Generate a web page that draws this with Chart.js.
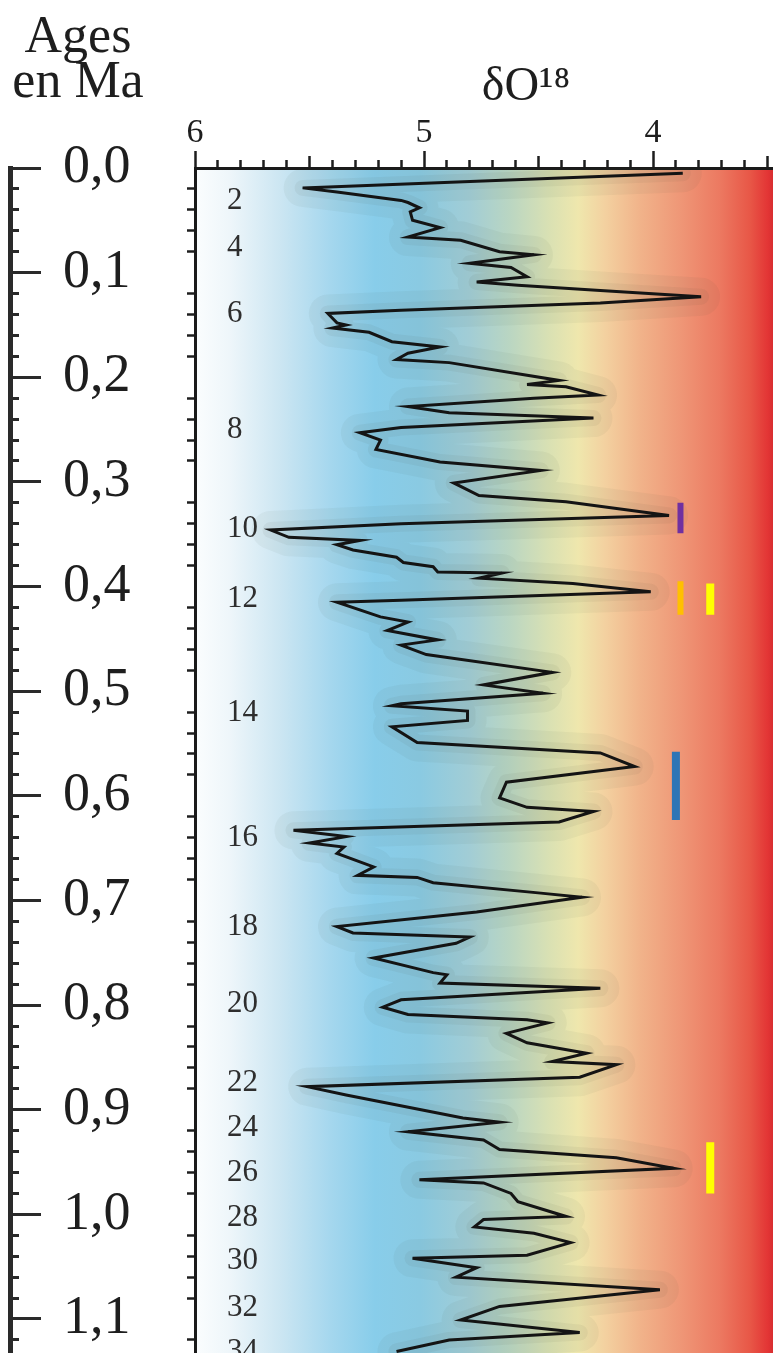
<!DOCTYPE html>
<html><head><meta charset="utf-8">
<script src="https://cdn.jsdelivr.net/npm/chart.js@4.4.1/dist/chart.umd.min.js"></script>
<style>
html,body{margin:0;padding:0;background:#fff;overflow:hidden}
#wrap{position:relative;width:773px;height:1353px}
canvas{position:absolute;left:0;top:0}
</style></head><body>
<div id="wrap">
<canvas id="plot" width="773" height="1353"></canvas>
<canvas id="ages" width="156" height="1353"></canvas>
</div>
<script>
// ---- data ----
const ageMa = [0.005,0.019,0.023,0.031,0.033,0.038,0.042,0.050,0.057,0.066,
0.069,0.080,0.083,0.091,0.095,0.104,0.109,0.112,0.117,0.123,
0.129,0.136,0.139,0.148,0.150,0.153,0.157,0.166,0.171,0.177,
0.183,0.186,0.203,0.207,0.209,0.217,0.220,0.228,0.234,0.239,
0.248,0.253,0.260,0.269,0.281,0.289,0.301,0.313,0.319,0.332,
0.340,0.346,0.353,0.356,0.360,0.365,0.372,0.377,0.381,0.386,
0.387,0.392,0.397,0.405,0.413,0.415,0.429,0.434,0.442,0.451,
0.456,0.465,0.482,0.494,0.502,0.512,0.514,0.519,0.528,0.534,
0.549,0.559,0.572,0.587,0.602,0.611,0.615,0.625,0.633,0.639,
0.645,0.649,0.655,0.668,0.676,0.678,0.683,0.693,0.697,0.711,
0.725,0.731,0.735,0.741,0.755,0.769,0.771,0.779,0.784,0.795,
0.802,0.809,0.814,0.817,0.827,0.836,0.846,0.854,0.857,0.869,
0.878,0.886,0.908,0.912,0.921,0.929,0.938,0.946,0.956,0.967,
0.970,0.980,0.988,1.002,1.005,1.012,1.018,1.027,1.039,1.042,
1.051,1.060,1.072,1.088,1.101,1.113,1.120,1.131];

const d18O = [3.87,5.53,5.38,5.10,5.07,5.02,5.06,5.05,4.93,5.07,
4.84,4.67,4.52,4.80,4.62,4.55,4.77,4.59,4.23,3.79,
4.23,5.10,5.42,5.38,5.34,5.40,5.24,5.14,4.93,5.07,
5.12,4.89,4.41,4.55,4.38,4.24,4.52,5.07,4.89,4.26,
5.10,5.28,5.19,5.21,4.93,4.49,4.87,4.76,4.38,3.93,
5.10,5.67,5.59,5.28,5.38,5.31,5.12,5.09,4.96,4.94,
4.66,4.76,4.35,4.01,5.10,5.38,5.19,5.07,5.16,4.94,
5.10,4.99,4.44,4.74,4.48,5.10,5.14,4.81,4.81,5.14,
5.03,4.23,4.08,4.64,4.67,4.55,4.26,4.41,5.57,5.34,
5.50,5.35,5.38,5.22,5.29,5.03,4.96,4.49,4.31,4.77,
5.38,5.31,4.80,4.86,5.22,4.96,4.90,4.93,4.23,5.10,
5.18,5.07,4.55,4.46,4.64,4.55,4.29,4.44,4.16,4.32,
5.51,5.34,4.83,4.67,5.07,4.74,4.67,4.16,3.91,5.02,
4.74,4.62,4.59,4.38,4.74,4.78,4.52,4.36,4.55,5.05,
4.77,4.86,3.97,4.67,4.84,4.32,4.89,5.12];

const misStageLabels = ['2','4','6','8','10','12','14','16','18','20','22','24','26','28','30','32','34'];
const misStageAges = [0.031,0.076,0.139,0.250,0.345,0.412,0.521,0.640,0.725,0.799,0.874,0.917,0.960,1.003,1.044,1.089,1.131];

const markerDelta = [3.88, 3.88, 3.75, 3.90, 3.75];
const markerAgeTop = [0.320, 0.395, 0.397, 0.558, 0.931];
const markerAgeBottom = [0.349, 0.427, 0.427, 0.623, 0.980];

const ageTickLabels = ['0,0','0,1','0,2','0,3','0,4','0,5','0,6','0,7','0,8','0,9','1,0','1,1'];
const deltaTickValues = [6, 5, 4];
const deltaTickLabels = ['6', '5', '4'];

// ---- styling / geometry ----
const SERIF = "'Liberation Serif','Times New Roman',serif";
const Y_MAX = 1.1325;
const X_MIN = 3.476;
const markerColors = ['#7030a0', '#ffc000', '#ffff00', '#2e75b6', '#ffff00'];
const markerWidths = [6, 6, 8, 8, 8];
const bgStops = [
  [0.000, '#fbfdfe'], [0.060, '#eef6fa'], [0.147, '#cce6f2'], [0.234, '#a5d7ee'],
  [0.311, '#88cdea'], [0.389, '#8acae2'], [0.476, '#a2cdd5'], [0.545, '#bad6c2'],
  [0.614, '#dae1b3'], [0.663, '#efe7ad'], [0.709, '#f3d1a0'], [0.770, '#f1b38a'],
  [0.839, '#ef9777'], [0.908, '#ec7961'], [0.960, '#e85747'], [0.991, '#e33535'],
  [1.000, '#d82e30']
];

const isMult = (v, step) => Math.abs(v / step - Math.round(v / step)) < 1e-6;
const ageTickValues = Array.from({length: 57}, (_, k) => +(k * 0.02).toFixed(2));
const deltaMinorValues = Array.from({length: 26}, (_, k) => +(3.5 + k * 0.1).toFixed(1));

const bgPlugin = {
  id: 'bandBackground',
  beforeDraw(chart) {
    const {ctx, chartArea: a} = chart;
    const g = ctx.createLinearGradient(a.left, 0, a.right, 0);
    bgStops.forEach(([p, c]) => g.addColorStop(p, c));
    ctx.save();
    ctx.fillStyle = g;
    ctx.fillRect(a.left, a.top, a.right - a.left, a.bottom - a.top);
    ctx.restore();
  }
};

const curve = ageMa.map((a, i) => ({x: d18O[i], y: a}));
const markerSets = markerDelta.map((d, i) => ({
  data: [{x: d, y: markerAgeTop[i]}, {x: d, y: markerAgeBottom[i]}],
  showLine: true, borderColor: markerColors[i], borderWidth: markerWidths[i],
  borderCapStyle: 'butt', pointRadius: 0
}));

new Chart(document.getElementById('plot'), {
  type: 'scatter',
  data: {
    datasets: [
      ...markerSets,
      {data: curve, showLine: true, borderColor: '#141414', borderWidth: 3,
       pointRadius: 0, borderJoinStyle: 'miter', tension: 0},
      {data: curve, showLine: true, borderColor: 'rgba(60,70,55,0.06)', borderWidth: 16,
       pointRadius: 0, borderJoinStyle: 'round', borderCapStyle: 'round', tension: 0},
      {data: curve, showLine: true, borderColor: 'rgba(60,70,55,0.05)', borderWidth: 38,
       pointRadius: 0, borderJoinStyle: 'round', borderCapStyle: 'round', tension: 0}
    ]
  },
  options: {
    responsive: false, animation: false, devicePixelRatio: 1,
    layout: {padding: 0},
    plugins: {legend: {display: false}, tooltip: {enabled: false}},
    scales: {
      x: {
        type: 'linear', position: 'top', min: X_MIN, max: 6, reverse: true,
        afterBuildTicks: s => { s.ticks = deltaMinorValues.map(v => ({value: v})); },
        afterFit: s => { s.height = 168; s.paddingLeft = 0; s.paddingRight = 0; },
        ticks: {
          autoSkip: false, maxRotation: 0, padding: 1, color: '#1e1e1e',
          font: {family: SERIF, size: 34, lineHeight: 1},
          callback: v => { const i = deltaTickValues.findIndex(t => Math.abs(t - v) < 1e-6); return i >= 0 ? deltaTickLabels[i] : ''; }
        },
        grid: {
          drawOnChartArea: false, tickLength: 17, tickWidth: 2.5, tickColor: '#1e1e1e',
          tickBorderDash: ctx => {
            const v = ctx.tick ? ctx.tick.value : 0;
            if (isMult(v, 1)) return [];
            if (isMult(v, 0.5)) return [0, 5, 11, 100];
            return [0, 9, 7, 100];
          }
        },
        border: {display: true, width: 3, color: '#1a1a1a'},
        title: {display: true, text: '       δO¹⁸', color: '#1e1e1e',
          font: {family: SERIF, size: 48, lineHeight: 1}, padding: {top: 63, bottom: 0}}
      },
      y: {
        type: 'linear', position: 'left', weight: 1, min: 0, max: Y_MAX, reverse: true,
        afterBuildTicks: s => { s.ticks = ageTickValues.map(v => ({value: v})); },
        afterFit: s => { s.width = 195; s.paddingTop = 0; s.paddingBottom = 0; },
        ticks: {display: false},
        grid: {drawOnChartArea: false, tickLength: 8, tickWidth: 2.5,
          tickColor: ctx => (ctx.tick && isMult(ctx.tick.value, 0.1)) ? 'rgba(0,0,0,0)' : '#1e1e1e'},
        border: {display: true, width: 3, color: '#1a1a1a'}
      },
      mis: {
        type: 'linear', position: 'left', weight: 0, min: 0, max: Y_MAX, reverse: true,
        afterBuildTicks: s => { s.ticks = misStageAges.map(v => ({value: v})); },
        afterFit: s => { s.width = 0; s.paddingTop = 0; s.paddingBottom = 0; },
        grid: {display: false, drawTicks: false},
        border: {display: false},
        ticks: {mirror: true, padding: 32, autoSkip: false, color: '#2e2e2e',
          font: {family: SERIF, size: 31, lineHeight: 1},
          callback: (v, i) => misStageLabels[i]}
      }
    }
  },
  plugins: [bgPlugin]
});

new Chart(document.getElementById('ages'), {
  type: 'scatter',
  data: {datasets: []},
  options: {
    responsive: false, animation: false, devicePixelRatio: 1,
    layout: {padding: 0},
    plugins: {
      legend: {display: false}, tooltip: {enabled: false},
      title: {display: true, text: ['Ages', 'en Ma'], align: 'center', color: '#1e1e1e',
        font: {family: SERIF, size: 52, weight: 'normal', lineHeight: '45px'},
        padding: {top: 16, bottom: 62}}
    },
    scales: {
      x: {display: false, min: 0, max: 1},
      y: {
        type: 'linear', position: 'right', min: 0, max: Y_MAX, reverse: true,
        afterBuildTicks: s => { s.ticks = ageTickValues.map(v => ({value: v})); },
        afterFit: s => { s.width = 146; s.paddingTop = 0; s.paddingBottom = 0; },
        grid: {drawOnChartArea: false, tickLength: 31, tickWidth: 3, tickColor: '#2a2a2a',
          tickBorderDash: ctx => (ctx.tick && isMult(ctx.tick.value, 0.1)) ? [] : [6, 200]},
        border: {display: true, width: 5, color: '#2a2a2a'},
        ticks: {autoSkip: false, padding: 22, color: '#1e1e1e',
          font: {family: SERIF, size: 54, lineHeight: 1},
          callback: v => isMult(v, 0.1) ? ageTickLabels[Math.round(v * 10)] : ''}
      }
    }
  }
});
</script>
</body></html>
